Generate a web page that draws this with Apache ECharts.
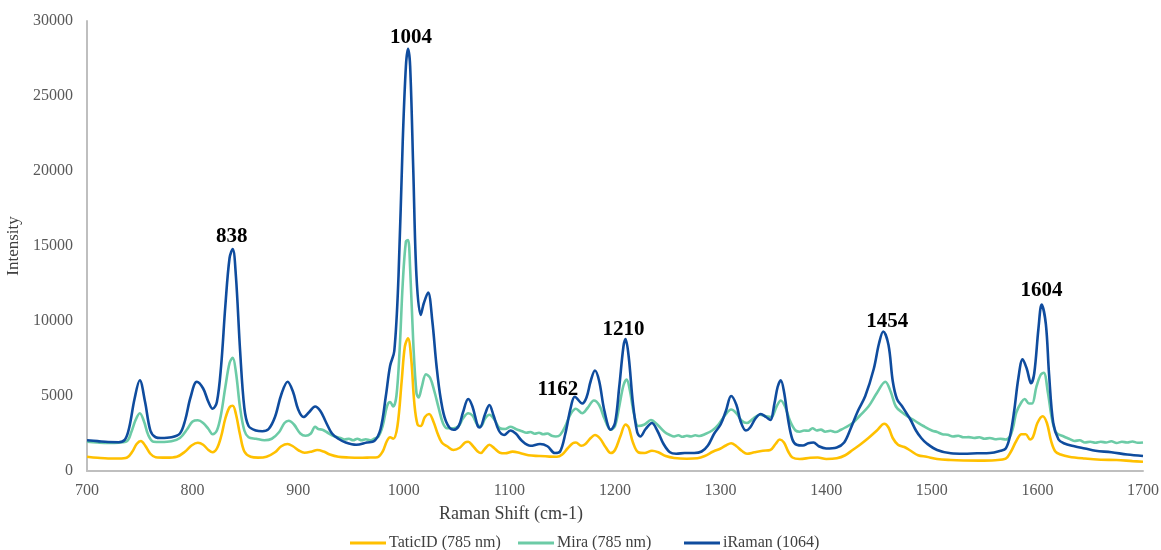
<!DOCTYPE html>
<html>
<head>
<meta charset="utf-8">
<script src="https://cdn.jsdelivr.net/npm/echarts@6/dist/echarts.min.js"></script>
<style>
  html, body { margin: 0; padding: 0; background: #fff; }
  #chart { width: 1161px; height: 550px; }
</style>
</head>
<body>
<div id="chart"></div>
<script>
// Raman spectra: [shift (cm-1), intensity]
const taticId = [
  [700,950],[710,880],[720,830],[730,830],[738,900],[743,1300],[747,1800],[751,2000],[755,1700],[760,1150],
  [765,920],[775,890],[785,950],[793,1300],[799,1700],[805,1880],[810,1750],[815,1400],[819,1250],[823,1500],
  [827,2300],[831,3500],[835,4250],[838,4350],[841,3800],[845,2400],[849,1300],[855,950],[862,890],[870,950],
  [878,1250],[884,1650],[890,1800],[895,1650],[901,1350],[906,1220],[913,1300],[918,1400],[924,1300],[930,1100],
  [938,950],[948,900],[958,880],[968,900],[975,920],[980,1300],[984,2000],[987,2250],[990,2150],[994,3000],
  [998,6000],[1001,8300],[1004,8850],[1007,7500],[1010,4500],[1013,3100],[1016,3000],[1020,3600],[1024,3800],[1028,3300],
  [1032,2500],[1036,1900],[1041,1650],[1047,1400],[1053,1550],[1058,1900],[1061,1950],[1065,1700],[1070,1300],[1073,1200],
  [1077,1500],[1081,1750],[1086,1500],[1091,1220],[1096,1180],[1103,1290],[1110,1200],[1118,1050],[1128,1000],[1138,960],
  [1145,950],[1150,1100],[1155,1500],[1160,1850],[1163,1900],[1168,1680],[1172,1800],[1177,2200],[1181,2400],[1186,2150],
  [1191,1600],[1196,1200],[1200,1400],[1205,2300],[1210,3100],[1213,2900],[1217,1900],[1222,1250],[1228,1200],[1235,1350],
  [1241,1250],[1248,1000],[1256,870],[1268,820],[1278,850],[1285,1000],[1293,1300],[1300,1500],[1305,1700],[1310,1850],
  [1315,1650],[1320,1350],[1325,1150],[1332,1250],[1340,1350],[1347,1400],[1352,1800],[1356,2100],[1360,1900],[1364,1300],
  [1368,900],[1375,800],[1385,880],[1392,900],[1400,800],[1410,850],[1418,1050],[1425,1400],[1432,1750],[1440,2200],
  [1448,2700],[1455,3150],[1459,2900],[1463,2200],[1468,1750],[1474,1600],[1480,1350],[1487,1050],[1495,950],[1505,800],
  [1518,730],[1530,700],[1545,690],[1560,720],[1570,820],[1575,1300],[1580,2000],[1585,2450],[1589,2450],[1593,2100],
  [1596,2300],[1600,3200],[1605,3650],[1609,3200],[1613,2000],[1617,1300],[1622,1100],[1630,950],[1645,830],[1660,750],
  [1675,730],[1690,660],[1700,620]
];

const mira = [
  [700,1950],[710,1900],[720,1870],[730,1890],[738,2000],[742,2600],[746,3400],[750,3850],[754,3300],[758,2400],
  [763,1950],[770,1930],[780,1980],[788,2200],[795,2800],[800,3300],[805,3380],[810,3200],[815,2800],[819,2450],
  [823,2700],[827,3800],[831,5600],[835,7200],[838,7550],[841,6600],[845,4200],[849,2700],[853,2250],[860,2150],
  [868,2050],[875,2150],[882,2600],[887,3200],[891,3350],[896,3100],[902,2500],[907,2350],[912,2500],[916,2950],
  [919,2800],[923,2750],[928,2550],[933,2350],[940,2200],[944,2100],[948,2150],[952,2050],[956,2150],[960,2050],
  [964,2120],[968,2040],[972,2150],[976,2300],
  [980,3000],[984,4300],[987,4600],[990,4300],[993,5000],[996,8000],[999,12500],[1002,15300],[1004,15400],[1006,13500],
  [1009,8500],[1012,5200],[1014,4900],[1017,5600],[1021,6450],[1025,6200],[1029,5300],[1033,4200],[1037,3200],[1041,2850],
  [1047,2850],[1052,3000],[1056,3500],[1061,3850],[1065,3700],[1070,3050],[1073,3000],[1077,3500],[1081,3750],[1086,3400],
  [1091,2850],[1096,2800],[1101,2950],[1106,2800],[1112,2650],[1116,2550],[1120,2600],[1124,2480],[1128,2550],[1132,2450],
  [1136,2500],[1140,2350],[1144,2300],[1148,2400],
  [1153,3000],[1158,3800],[1163,4150],[1169,3850],[1174,4200],[1180,4700],[1185,4400],[1190,3500],[1196,2750],[1200,3000],
  [1204,4300],[1208,5700],[1211,6100],[1214,5400],[1218,3800],[1222,3000],[1228,3100],[1234,3400],[1240,3100],[1247,2600],
  [1252,2400],[1256,2300],[1260,2380],[1264,2280],[1268,2350],[1272,2300],[1276,2380],[1280,2330],[1285,2450],
  [1292,2700],[1298,3100],[1304,3700],[1310,4100],[1315,3850],[1320,3350],
  [1325,3200],[1331,3500],[1337,3750],[1343,3650],[1348,3600],[1353,4300],[1357,4700],[1361,4300],[1366,3300],[1371,2700],
  [1375,2620],[1379,2700],[1383,2680],[1387,2850],[1391,2700],[1395,2760],[1399,2620],[1404,2680],[1409,2600],[1414,2750],
  [1418,2900],[1425,3200],[1432,3700],[1440,4300],[1448,5200],
  [1456,5950],[1461,5300],[1466,4300],[1472,3900],[1478,3600],[1485,3300],[1492,3000],[1500,2700],[1505,2600],[1510,2450],
  [1515,2420],[1520,2300],[1525,2350],[1530,2250],[1535,2260],[1540,2200],[1545,2250],[1550,2150],[1555,2200],[1560,2120],
  [1565,2150],[1570,2100],[1574,2300],
  [1577,2900],[1580,3900],[1585,4600],[1588,4800],[1592,4500],[1595,4500],
  [1599,5600],[1603,6400],[1606,6550],[1610,5200],[1614,3400],[1618,2550],[1625,2300],[1630,2150],[1635,2000],[1640,2050],
  [1645,1900],[1650,1950],[1655,1880],[1660,1950],[1665,1900],[1670,1980],[1675,1870],[1680,1950],[1685,1900],[1690,1970],
  [1695,1880],[1700,1900]
];

const iRaman = [
  [700,2050],[710,1990],[720,1930],[730,1920],[736,2100],[740,2900],[745,4800],[750,6050],[755,4600],[760,2700],
  [765,2250],[770,2200],[780,2250],[788,2500],[793,3400],[798,4900],[804,5950],[810,5500],[815,4600],[819,4150],
  [823,4600],[827,7000],[831,11000],[835,14200],[838,14800],[841,13000],[845,8000],[849,4200],[853,3000],[860,2700],
  [866,2650],[872,2800],[878,3600],[884,5100],[890,5950],[895,5300],[900,4100],[905,3600],[910,3900],[916,4300],
  [921,4000],[926,3300],[932,2500],[938,2150],[945,1900],[955,1750],[965,1900],[972,2000],[978,2800],[983,5000],
  [987,7000],[991,8000],[995,13000],[999,22000],[1002,27000],[1004,28150],[1006,27000],[1009,20000],[1012,13000],[1016,10400],
  [1019,11200],[1023,11900],[1027,10000],[1031,7000],[1035,4800],[1040,3300],[1047,2750],[1052,3000],[1056,3900],[1061,4800],
  [1065,4300],[1070,3000],[1072,2900],[1077,3800],[1081,4400],[1085,3700],[1090,2700],[1095,2400],[1101,2700],[1106,2500],
  [1112,2000],[1120,1680],[1129,1800],[1136,1650],[1143,1200],[1148,1300],[1153,2500],[1158,4200],[1162,4950],[1169,4500],
  [1173,4900],[1177,6000],[1181,6700],[1185,6000],[1190,4000],[1196,2750],[1200,3200],[1204,5600],[1208,8300],[1210,8800],
  [1213,7600],[1217,4500],[1221,2600],[1224,2300],[1229,2800],[1235,3200],[1240,2700],[1246,1800],[1252,1250],[1258,1150],
  [1266,1200],[1275,1200],[1282,1300],[1288,1700],[1294,2500],[1300,3100],[1305,4000],[1310,5000],[1315,4400],[1319,3300],
  [1324,2700],[1328,2900],[1333,3500],[1338,3800],[1343,3600],[1347,3400],[1351,4500],[1354,5600],[1357,6050],[1360,5300],
  [1364,3400],[1368,2100],[1372,1750],[1378,1700],[1383,1850],[1388,1900],[1393,1650],[1400,1500],[1410,1570],[1417,1900],
  [1423,2800],[1430,4000],[1437,5000],[1445,6800],[1450,8500],[1454,9300],[1459,8400],[1463,6000],[1467,4800],[1472,4300],
  [1476,3850],[1480,3400],[1485,2700],[1490,2200],[1495,1850],[1505,1400],[1518,1180],[1530,1150],[1543,1180],[1555,1200],
  [1565,1350],[1570,1500],[1574,2300],[1578,4000],[1582,6200],[1586,7450],[1590,6800],[1594,5850],[1597,6500],[1601,9500],
  [1604,11100],[1608,9800],[1611,6500],[1615,3200],[1620,2100],[1625,1850],[1635,1650],[1645,1500],[1655,1350],[1670,1250],
  [1685,1100],[1700,1000]
];

const seriesNames = ['TaticID (785 nm)', 'Mira (785 nm)', 'iRaman (1064)'];
const seriesColors = ['#FFC000', '#6CCBA6', '#0F4C9E'];

// annotated band positions (cm-1) and their label offsets
const peakShifts = [838, 1004, 1162, 1210, 1454, 1604];
const peakLabelOffsets = [[-1, 2], [3, 3], [-17, 7], [-2, 5], [4, 5], [0, 1]];

const serif = '"Liberation Serif", "Times New Roman", serif';

function intensityAt(data, shift) {
  let best = data[0];
  for (const p of data) {
    if (Math.abs(p[0] - shift) < Math.abs(best[0] - shift)) best = p;
  }
  return best[1];
}

const peakMarks = peakShifts.map((s, i) => ({
  coord: [s, intensityAt(iRaman, s)],
  value: s,
  label: { offset: peakLabelOffsets[i] }
}));

const chart = echarts.init(document.getElementById('chart'), null, { renderer: 'canvas' });

const lineSeries = [taticId, mira, iRaman].map((data, i) => ({
  name: seriesNames[i],
  type: 'line',
  data: data,
  smooth: 0.35,
  showSymbol: false,
  symbol: 'none',
  lineStyle: { color: seriesColors[i], width: 2.6 },
  itemStyle: { color: seriesColors[i] },
  z: 2 + i
}));

lineSeries[2].markPoint = {
  symbol: 'circle',
  symbolSize: 0,
  silent: true,
  label: {
    show: true,
    position: 'top',
    distance: 4,
    formatter: '{c}',
    fontFamily: serif,
    fontWeight: 'bold',
    fontSize: 21,
    color: '#000'
  },
  data: peakMarks
};

// one legend block per series, laid out as equal-width entries
const legendLefts = [350, 518, 684];
const legends = seriesNames.map((name, i) => ({
  left: legendLefts[i],
  top: 535,
  itemWidth: 36,
  itemHeight: 3,
  icon: 'rect',
  padding: 0,
  textStyle: { fontFamily: serif, fontSize: 16, color: '#404040', padding: [0, 0, 0, -2] },
  data: [name]
}));

chart.setOption({
  animation: false,
  backgroundColor: '#ffffff',
  grid: { left: 87, right: 18, top: 21, bottom: 79, containLabel: false, outerBoundsMode: 'none' },
  legend: legends,
  xAxis: {
    type: 'value',
    min: 700,
    max: 1700,
    interval: 100,
    name: 'Raman Shift (cm-1)',
    nameLocation: 'middle',
    nameGap: 34,
    nameTextStyle: { fontFamily: serif, fontSize: 18, color: '#404040', padding: [0, 208, 0, 0] },
    axisLine: { lineStyle: { color: '#BFBFBF', width: 2 } },
    axisTick: { show: false },
    splitLine: { show: false },
    axisLabel: { fontFamily: serif, fontSize: 16, color: '#595959', margin: 12, formatter: v => String(v) }
  },
  yAxis: {
    type: 'value',
    min: 0,
    max: 30000,
    interval: 5000,
    name: 'Intensity',
    nameLocation: 'middle',
    nameGap: 54,
    nameTextStyle: { fontFamily: serif, fontSize: 17, color: '#404040' },
    axisLine: { show: true, lineStyle: { color: '#BFBFBF', width: 2 } },
    axisTick: { show: false },
    splitLine: { show: false },
    axisLabel: { fontFamily: serif, fontSize: 16, color: '#595959', margin: 14, formatter: v => String(v) }
  },
  series: lineSeries
});
</script>
</body>
</html>
